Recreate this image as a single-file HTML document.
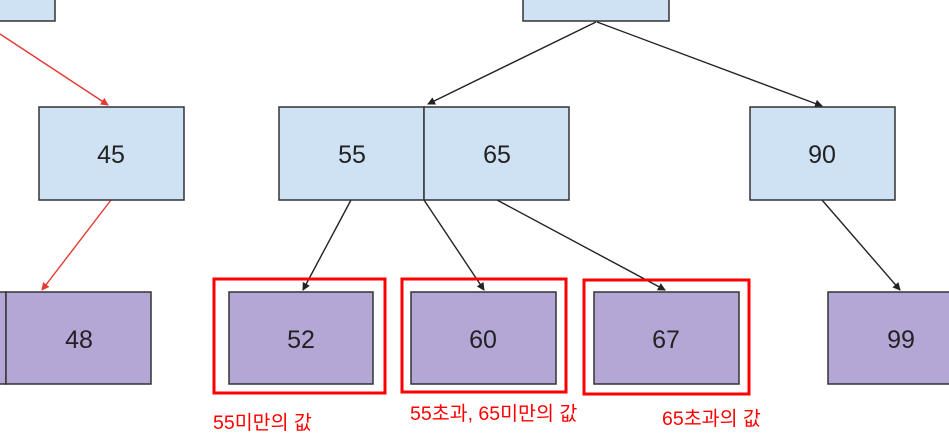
<!DOCTYPE html>
<html><head><meta charset="utf-8"><style>
html,body{margin:0;padding:0;background:#fff;width:949px;height:446px;overflow:hidden}
svg{display:block}
.b{fill:#cfe2f3;stroke:#333;stroke-width:1.5}
.p{fill:#b4a7d6;stroke:#333;stroke-width:1.5}
.n{font-family:"Liberation Sans",Arial,sans-serif;font-size:25px;fill:#222;text-anchor:middle}
.r{fill:none;stroke:#ff0000;stroke-width:3}
.l{font-family:"Liberation Sans","Noto Sans CJK KR",sans-serif;font-size:19.5px;fill:#ff0000}
</style></head><body>
<svg width="949" height="446" viewBox="0 0 949 446" xmlns="http://www.w3.org/2000/svg">
<defs>
<marker id="ak" markerWidth="8" markerHeight="8" refX="7" refY="4" orient="auto" markerUnits="userSpaceOnUse"><path d="M0,0 L8,4 L0,8 z" fill="#222"/></marker>
<marker id="ar" markerWidth="8" markerHeight="8" refX="7" refY="4" orient="auto" markerUnits="userSpaceOnUse"><path d="M0,0 L8,4 L0,8 z" fill="#e53935"/></marker>
</defs>
<rect class="b" x="-5" y="-5" width="60" height="26"/>
<rect class="b" x="523" y="-5" width="146" height="26"/>
<g stroke="#e53935" stroke-width="1.4">
<line x1="0" y1="34" x2="108" y2="105" marker-end="url(#ar)"/>
<line x1="111" y1="200" x2="42" y2="290" marker-end="url(#ar)"/>
</g>
<g stroke="#222" stroke-width="1.4">
<line x1="596" y1="22" x2="428" y2="104" marker-end="url(#ak)"/>
<line x1="597" y1="22" x2="822" y2="106" marker-end="url(#ak)"/>
<line x1="351" y1="200" x2="303" y2="290" marker-end="url(#ak)"/>
<line x1="424" y1="200" x2="484" y2="290" marker-end="url(#ak)"/>
<line x1="497" y1="200" x2="665" y2="290" marker-end="url(#ak)"/>
<line x1="822" y1="200" x2="900" y2="290" marker-end="url(#ak)"/>
</g>
<rect class="b" x="39" y="107" width="145" height="93"/>
<text class="n" x="111" y="163">45</text>
<rect class="b" x="279" y="107" width="145" height="93"/>
<rect class="b" x="424" y="107" width="145" height="93"/>
<text class="n" x="352" y="163">55</text>
<text class="n" x="497" y="163">65</text>
<rect class="b" x="750" y="107" width="145" height="93"/>
<text class="n" x="822" y="163">90</text>
<rect class="p" x="-5" y="292" width="11" height="92"/>
<rect class="p" x="6" y="292" width="145" height="92"/>
<text class="n" x="79" y="348">48</text>
<rect class="p" x="229" y="292" width="144" height="92"/>
<text class="n" x="301" y="348">52</text>
<rect class="p" x="411" y="292" width="145" height="92"/>
<text class="n" x="483" y="348">60</text>
<rect class="p" x="594" y="292" width="145" height="92"/>
<text class="n" x="666" y="348">67</text>
<rect class="p" x="828" y="292" width="130" height="92"/>
<text class="n" x="901" y="348">99</text>
<rect class="r" x="214" y="279" width="171" height="114"/>
<rect class="r" x="402" y="279" width="164" height="113"/>
<rect class="r" x="584" y="280" width="165" height="114"/>
<text class="l" x="213" y="429">55미만의 값</text>
<text class="l" x="410" y="420">55초과, 65미만의 값</text>
<text class="l" x="662" y="425">65초과의 값</text>
</svg>
</body></html>
